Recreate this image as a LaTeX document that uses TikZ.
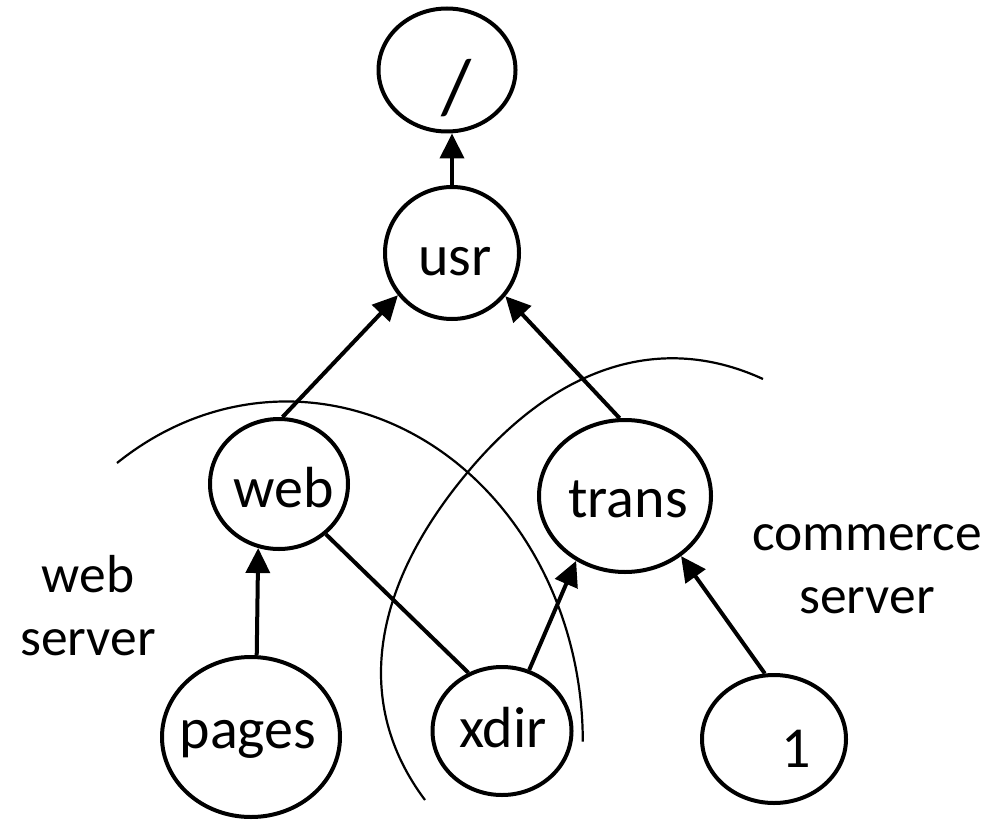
\documentclass[tikz,border=0pt]{standalone}
\usepackage{fontspec}
\setmainfont{Carlito}
\usetikzlibrary{shapes.geometric,arrows.meta}
\begin{document}
\begin{tikzpicture}[x=1pt,y=-1pt,
  nd/.style={ellipse, draw, line width=4pt, inner sep=0pt},
  lbl/.style={font=\fontsize{58}{62}\selectfont, anchor=base, inner sep=0pt},
  side/.style={font=\fontsize{53.5}{63}\selectfont, align=center, anchor=base, inner sep=0pt},
  arr/.style={line width=4pt, -{Triangle[length=25pt,width=24pt]}},
  ln/.style={line width=4pt},
  arcline/.style={line width=2.2pt}]
\useasboundingbox (0,0) rectangle (995,821);
% ellipses
\node[nd, minimum width=137pt, minimum height=123pt] (root)  at (447,70) {};
\node[nd, minimum width=134pt, minimum height=132pt] (usr)   at (452,253) {};
\node[nd, minimum width=138pt, minimum height=130pt] (web)   at (279,484) {};
\node[nd, minimum width=172pt, minimum height=152pt] (trans) at (625,496) {};
\node[nd, minimum width=178pt, minimum height=160pt] (pages) at (251,737) {};
\node[nd, minimum width=139pt, minimum height=128pt] (xdir)  at (502,731) {};
\node[nd, minimum width=144pt, minimum height=128pt] (one)   at (774,739) {};
% texts
\node[lbl, font=\fontsize{78}{80}\selectfont] (troot) at (457,114) {/};
\node[lbl] (tusr)   at (455,275) {usr};
\node[lbl] (tweb)   at (284,507) {web};
\node[lbl] (ttrans) at (628,517) {trans};
\node[lbl] (tpages) at (248,748) {pages};
\node[lbl] (txdir)  at (503,747) {xdir};
\node[lbl] (tone)   at (796,767) {1};
\node[side] (webserver) at (88,655) {web\\server};
\node[side] (commserver) at (867,613) {commerce\\server};
% connectors
\draw[arr] (usr.north) -- (usr.north |- root.south);
\draw[arr] (web.87) -- (usr.218);
\draw[arr] (trans.94) -- (usr.-39);
\draw[arr] (pages.86) -- (web.252);
\draw[ln] (web.-47) -- (xdir.120);
\draw[arr] (xdir.66) -- (trans.233);
\draw[arr] (one.98) -- (trans.-47);
% arcs
\draw[arcline] (117,463) arc[start angle=125, end angle=0, x radius=296pt, y radius=340pt];
\draw[arcline] (425,800) .. controls (353,704) and (371,588) .. (467,473)
                         .. controls (550,373) and (654,329) .. (763,379);
\end{tikzpicture}
\end{document}
